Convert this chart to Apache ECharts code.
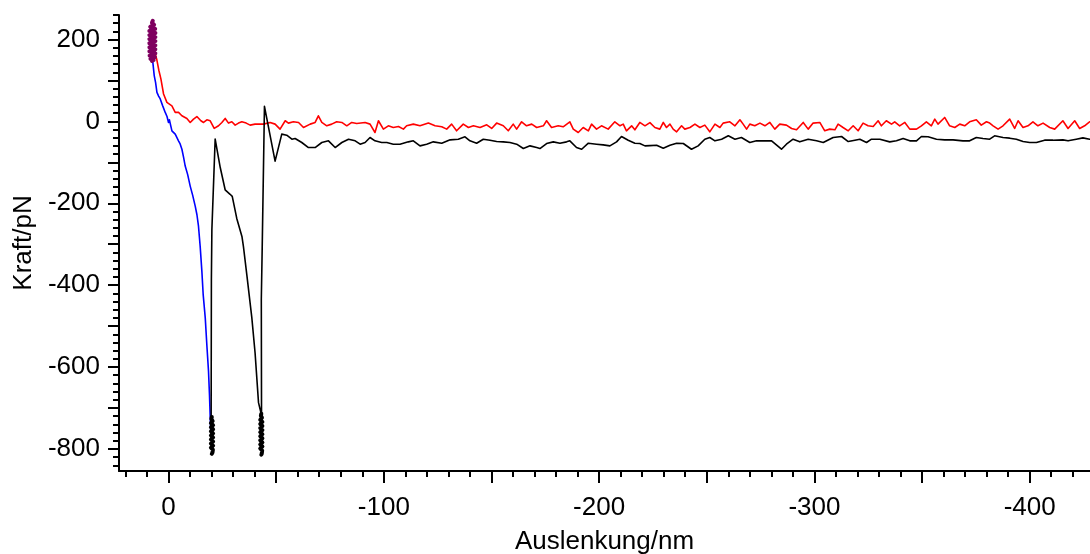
<!DOCTYPE html>
<html>
<head>
<meta charset="utf-8">
<script src="https://cdn.jsdelivr.net/npm/echarts@6/dist/echarts.min.js"></script>
<style>
html,body{margin:0;padding:0;background:#fff;}
#chart{width:1090px;height:554px;}
</style>
</head>
<body>
<div id="chart"></div>
<script>
// ---- tick values / labels ----
const xLabelValues = [0, -100, -200, -300, -400];
const xMajorTicks = [0, -50, -100, -150, -200, -250, -300, -350, -400];
const xMinorTicks = [20, 10, -10, -20, -30, -40, -60, -70, -80, -90, -110, -120, -130, -140, -160, -170, -180, -190,
  -210, -220, -230, -240, -260, -270, -280, -290, -310, -320, -330, -340, -360, -370, -380, -390, -410, -420];
const yLabelValues = [-800, -600, -400, -200, 0, 200];
const yMajorTicks = [-800, -700, -600, -500, -400, -300, -200, -100, 0, 100, 200];
const yMinorTicks = [-840, -820, -780, -760, -740, -720, -680, -660, -640, -620, -580, -560, -540, -520,
  -480, -460, -440, -420, -380, -360, -340, -320, -280, -260, -240, -220, -180, -160, -140, -120,
  -80, -60, -40, -20, 20, 40, 60, 80, 120, 140, 160, 180, 220, 240, 260];

// ---- data: [Auslenkung nm, Kraft pN] ----
const contactBlob = [
  [7.3,246],[7.7,241],[6.7,236],[8.5,231],[6.2,226],[8.9,221],[6.1,216],[8.9,211],[6.1,206],[8.9,201],
  [6.1,196],[8.9,191],[6.1,186],[8.9,181],[6.1,176],[8.9,171],[6.1,166],[8.8,161],[6.3,157],[8.4,153],
  [6.9,150],[7.7,148]
];
const approachBlue = [
  [7.7,165],[7.2,140],[6.64,112],[6.0,95],[5.38,71],[4.6,62],[3.85,55],[2.7,38],[1.53,22],[0.7,12],
  [0,-2.5],[-0.4,4],[-0.79,2],[-1.1,-12],[-1.58,-23],[-2.3,-22],[-3.11,-31],[-4.64,-47.5],[-5.4,-55],
  [-6.22,-68],[-7.0,-88],[-7.75,-109],[-8.9,-130],[-10.07,-158],[-11.2,-180],[-12.4,-207],[-13.2,-228],
  [-13.92,-256],[-14.71,-306],[-15.5,-367],[-16.1,-423],[-17.06,-480],[-17.8,-546],[-18.57,-610],
  [-19.03,-668],[-19.36,-722],[-19.6,-754]
];
const retractRed = [
  [6.8,178],[5.4,150],[4.5,125],[3.54,104],[2.3,67],[0.75,46.5],[-1.57,38],[-3.11,22],[-4.66,22],[-6.21,14],
  [-8.53,7],[-10.08,-2.5],[-11.62,5.7],[-13.17,12],[-15.03,1.6],[-16.27,-2.5],[-17.81,4],[-19.36,1.6],
  [-21.22,-17],[-23.23,-10.7],[-24.78,-2.5],[-26.32,7.3],[-27.87,-4.1],[-29.42,-0.9],[-30.96,-9],
  [-32.51,-4.1],[-34.06,-0.9],[-36.07,-4.1],[-37.9,-9],[-40.2,-6.6],[-44.1,-6.6],[-47.2,-2.5],[-49.5,-6.6],
  [-51.8,-18.8],[-54.2,1.6],[-55.7,-4.1],[-58.0,-0.9],[-60.4,-2.5],[-62.7,-14.8],[-65.8,-6.6],[-68.1,-2.5],
  [-69.6,13.8],[-71.2,-2.5],[-73.5,-10.7],[-75.8,-6.6],[-78.1,-0.9],[-80.5,-2.5],[-82.8,-10.7],[-85.1,-2.5],
  [-87.4,-5],[-91.3,-2.5],[-93.6,-6.6],[-95.9,-27],[-97.5,1.6],[-99.8,-18.8],[-102.1,-10.7],[-104.4,-14.8],
  [-106.8,-12.3],[-109.1,-18.8],[-110.6,-10.7],[-113.7,-6.6],[-116.8,-10.7],[-120.7,-4.1],[-123.8,-10.7],
  [-126.9,-13.1],[-129.2,-18.8],[-131.5,-6.6],[-133.8,-22.9],[-136.9,-6.6],[-139.3,-14.8],[-141.6,-10.7],
  [-144.7,-14.8],[-147.8,-8.2],[-150.1,-17.2],[-152.4,-4.1],[-155.5,-10.7],[-157.8,-22.9],[-160.1,-6.6],
  [-161.7,-18.8],[-164.0,-0.9],[-166.3,-10.7],[-168.7,-6.6],[-171.0,-14.8],[-174.1,-10.7],[-175.6,1.6],
  [-177.9,-14.8],[-181.0,-10.7],[-183.3,-13.1],[-186.4,-0.9],[-188.0,-18.8],[-190.3,-27],[-192.6,-14.8],
  [-195.0,-22.9],[-196.5,-6.6],[-198.8,-18.8],[-201.1,-10.7],[-204.2,-18.8],[-207.3,-0.9],[-209.7,-10.7],
  [-211.2,-6.6],[-212.7,-22.9],[-215.1,-10.7],[-216.6,-20.5],[-218.9,-2.5],[-221.3,-10.7],[-223.6,-3],
  [-225.9,-14.8],[-228.2,-18.8],[-229.8,-2.5],[-231.3,-14.8],[-232.9,-6.6],[-234.4,-18.8],[-236.0,-25.4],
  [-238.3,-10.7],[-239.8,-18.8],[-242.2,-14.8],[-244.5,-6.6],[-246.8,-14.8],[-249.1,-9],[-251.4,-25.4],
  [-253.8,-6.6],[-256.1,-14.8],[-257.6,-4.1],[-260.7,-0.9],[-263.1,-10.7],[-265.4,4],[-266.9,-6.6],
  [-268.5,-18.8],[-270.0,-6.6],[-272.3,-10.7],[-274.7,-4.1],[-277.0,-10.7],[-279.3,-2.5],[-281.6,-18.8],
  [-283.9,-6.6],[-287.0,-9],[-289.4,-17.2],[-291.7,-20.5],[-294.8,-2.5],[-297.1,-18.8],[-299.4,-4.1],
  [-302.5,-2.5],[-304.8,-22.9],[-307.1,-18.8],[-309.5,-20.5],[-311.0,-6.6],[-313.3,-14.8],[-315.7,-22.9],
  [-318.0,-10.7],[-320.3,-22.9],[-322.6,-4.1],[-324.9,-10.7],[-327.3,-12.3],[-329.6,1.6],[-331.1,-10.7],
  [-333.4,1.6],[-335.8,-6.6],[-337.3,-0.9],[-339.6,-10.7],[-342.0,-2.5],[-344.3,-18.8],[-347.4,-18.8],
  [-349.7,-10.7],[-352.0,-0.9],[-354.3,-10.7],[-355.9,5.7],[-357.4,-6.6],[-360.5,9.7],[-362.8,-10.7],
  [-365.2,-14.8],[-367.5,-6.6],[-369.8,-10.7],[-372.1,-0.9],[-375.2,4],[-377.5,-9],[-379.9,-0.9],
  [-381.4,-4.1],[-383.0,-10.7],[-385.3,-18.8],[-387.6,-10.7],[-390.7,5.7],[-393.0,-17.2],[-394.6,1.6],
  [-396.9,-14.8],[-399.2,-10.7],[-401.5,-0.9],[-403.8,-10.7],[-406.2,-4.1],[-409.3,-14.8],[-411.6,-18.8],
  [-415.4,1.6],[-417.8,-17.2],[-420.9,1.6],[-423.2,-17.2],[-425.5,-10.7],[-427.8,-0.9]
];
const retractBlack = [
  [-19.6,-740],[-20.4,-790],[-19.8,-722],
  [-19.91,-386],[-20.14,-264],[-21.67,-43],[-24.0,-112],[-26.3,-167],[-28.6,-178],[-29.6,-183],
  [-31.7,-237],[-34.1,-281],[-34.8,-306],[-36.4,-376],[-38.7,-480],[-40.2,-565],[-41.8,-687],[-43.4,-722],
  [-42.9,-760],[-43.2,-720],
  [-43.1,-435],[-43.5,-313],[-44.56,37],[-49.5,-97],[-52.6,-31],[-54.9,-33.6],[-57.3,-43.4],[-58.8,-41.7],
  [-61.9,-51.5],[-65.0,-63.8],[-68.1,-63.8],[-71.2,-51.5],[-74.3,-47.4],[-77.4,-63.8],[-80.5,-51.5],
  [-83.6,-43.4],[-86.7,-47.4],[-89.0,-55.6],[-91.3,-51.5],[-93.6,-39.3],[-95.9,-47.4],[-99.0,-51.5],
  [-101.4,-51.5],[-104.4,-55.6],[-107.5,-55.6],[-111.4,-49.9],[-113.7,-47.4],[-116.8,-59.7],[-119.9,-55.6],
  [-123.0,-49.9],[-126.9,-53.2],[-130.8,-45],[-134.6,-43.4],[-137.7,-37.6],[-140.0,-47.4],[-143.1,-53.2],
  [-146.2,-43.4],[-149.3,-45.8],[-152.4,-49.1],[-155.5,-49.9],[-158.6,-51.5],[-161.7,-55.6],[-164.8,-66.2],
  [-167.9,-59.7],[-171.0,-63.8],[-172.5,-66.2],[-175.6,-54],[-178.7,-49.9],[-181.8,-53.2],[-184.9,-49.9],
  [-186.4,-47.4],[-189.5,-63.8],[-191.9,-67.9],[-195.0,-53.2],[-198.8,-55.6],[-201.9,-57.3],[-205.0,-59.7],
  [-208.1,-49.9],[-210.4,-36.8],[-213.5,-45.8],[-216.6,-53.2],[-218.9,-54],[-221.3,-59.7],[-223.6,-59],
  [-226.7,-58.1],[-229.8,-65.4],[-232.9,-58.1],[-236.0,-53.2],[-239.1,-54],[-242.9,-67.9],[-246.0,-59.7],
  [-249.1,-43.4],[-251.4,-39.3],[-253.8,-47.4],[-256.9,-43.4],[-260.0,-35.2],[-263.1,-43.4],[-266.1,-39.3],
  [-270.0,-51.5],[-273.1,-47.4],[-277.0,-47.4],[-280.1,-47.4],[-284.7,-67.9],[-287.0,-55.6],[-290.1,-43.4],
  [-293.2,-49.9],[-297.1,-43.4],[-301.0,-47.4],[-304.1,-51.5],[-308.7,-39.3],[-312.6,-36.8],[-315.7,-49.1],
  [-318.8,-45.8],[-321.1,-43.4],[-324.2,-51.5],[-326.5,-43.4],[-330.4,-43.4],[-335.0,-49.9],[-338.1,-47.4],
  [-341.2,-41.7],[-344.3,-47.4],[-347.4,-47.4],[-349.7,-36.8],[-352.8,-37.6],[-356.7,-43.4],[-360.5,-45],
  [-364.4,-45],[-369.0,-47.4],[-372.1,-47.4],[-375.2,-39.3],[-378.3,-41.7],[-381.4,-43.4],[-383.7,-35.2],
  [-387.6,-39.3],[-390.7,-40.9],[-393.8,-43.4],[-396.9,-49.1],[-400.0,-51.5],[-403.1,-51.5],[-406.9,-45.8],
  [-410.8,-45.8],[-415.4,-45],[-417.8,-47.4],[-421.6,-43.4],[-424.7,-40.1],[-427.8,-43.4]
];
// dense oscillation at the two rupture points
const rupture1Blob = [
  [-20.1,-722],[-19.9,-727],[-20.5,-732],[-19.7,-737],[-20.7,-742],[-19.7,-747],[-20.7,-752],[-19.7,-757],
  [-20.7,-762],[-19.7,-767],[-20.7,-772],[-19.7,-777],[-20.7,-782],[-19.7,-787],[-20.7,-792],[-19.7,-797],
  [-20.6,-802],[-19.8,-806],[-20.4,-809],[-20.1,-812]
];
const rupture2Blob = [
  [-43.1,-714],[-42.9,-719],[-43.4,-724],[-42.6,-729],[-43.6,-734],[-42.6,-739],[-43.6,-744],[-42.6,-749],
  [-43.6,-754],[-42.6,-759],[-43.6,-764],[-42.6,-769],[-43.6,-774],[-42.6,-779],[-43.6,-784],[-42.6,-789],
  [-43.6,-794],[-42.6,-799],[-43.5,-804],[-42.8,-808],[-43.3,-812],[-43.1,-814]
];

const X_MIN = -428, X_MAX = 23, Y_MIN = -854, Y_MAX = 260;
const FONT = 'Liberation Sans, Arial, sans-serif';
const AXIS_COLOR = '#000';

const chart = echarts.init(document.getElementById('chart'), null, {renderer: 'canvas'});

function xAxisBase(extra) {
  return Object.assign({
    type: 'value', min: X_MIN, max: X_MAX, inverse: true, position: 'bottom',
    splitLine: {show: false}
  }, extra);
}
function yAxisBase(extra) {
  return Object.assign({
    type: 'value', min: Y_MIN, max: Y_MAX, position: 'left',
    splitLine: {show: false}
  }, extra);
}
function lineSeries(name, data, color, width, z) {
  return {type: 'line', name: name, data: data, showSymbol: false, symbol: 'none',
    lineStyle: {color: color, width: width, join: 'round', cap: 'round'}, z: z};
}

const option = {
  animation: false,
  backgroundColor: '#fff',
  grid: {left: 119, right: 0, top: 15, bottom: 83, containLabel: false, outerBoundsMode: 'none'},
  xAxis: [
    xAxisBase({
      name: 'Auslenkung/nm', nameLocation: 'middle', nameGap: 58,
      nameTextStyle: {fontFamily: FONT, fontSize: 26, color: '#000'},
      axisLine: {show: true, onZero: false, lineStyle: {color: AXIS_COLOR, width: 2}},
      axisTick: {show: true, inside: false, length: 12, customValues: xMajorTicks, lineStyle: {color: AXIS_COLOR, width: 2}},
      axisLabel: {show: true, customValues: xLabelValues, margin: 24, fontFamily: FONT, fontSize: 26, color: '#000'}
    }),
    xAxisBase({
      axisLine: {show: false, onZero: false},
      axisTick: {show: true, inside: false, length: 6, customValues: xMinorTicks, lineStyle: {color: AXIS_COLOR, width: 2}},
      axisLabel: {show: false}
    })
  ],
  yAxis: [
    yAxisBase({
      name: 'Kraft/pN', nameLocation: 'middle', nameGap: 76,
      nameTextStyle: {fontFamily: FONT, fontSize: 26, color: '#000'},
      axisLine: {show: true, onZero: false, lineStyle: {color: AXIS_COLOR, width: 2}},
      axisTick: {show: true, inside: false, length: 11, customValues: yMajorTicks, lineStyle: {color: AXIS_COLOR, width: 2}},
      axisLabel: {show: true, customValues: yLabelValues, margin: 19, fontFamily: FONT, fontSize: 26, color: '#000'}
    }),
    yAxisBase({
      axisLine: {show: false, onZero: false},
      axisTick: {show: true, inside: false, length: 6, customValues: yMinorTicks, lineStyle: {color: AXIS_COLOR, width: 2}},
      axisLabel: {show: false}
    })
  ],
  series: [
    lineSeries('approach', approachBlue, '#0000ff', 1.6, 2),
    lineSeries('retract', retractRed, '#ff0000', 1.6, 2),
    lineSeries('retract2', retractBlack, '#000000', 1.6, 3),
    lineSeries('rupture1', rupture1Blob, '#000000', 4, 4),
    lineSeries('rupture2', rupture2Blob, '#000000', 4, 4),
    lineSeries('contact', contactBlob, '#7f0060', 4, 5)
  ]
};
chart.setOption(option);
</script>
</body>
</html>
